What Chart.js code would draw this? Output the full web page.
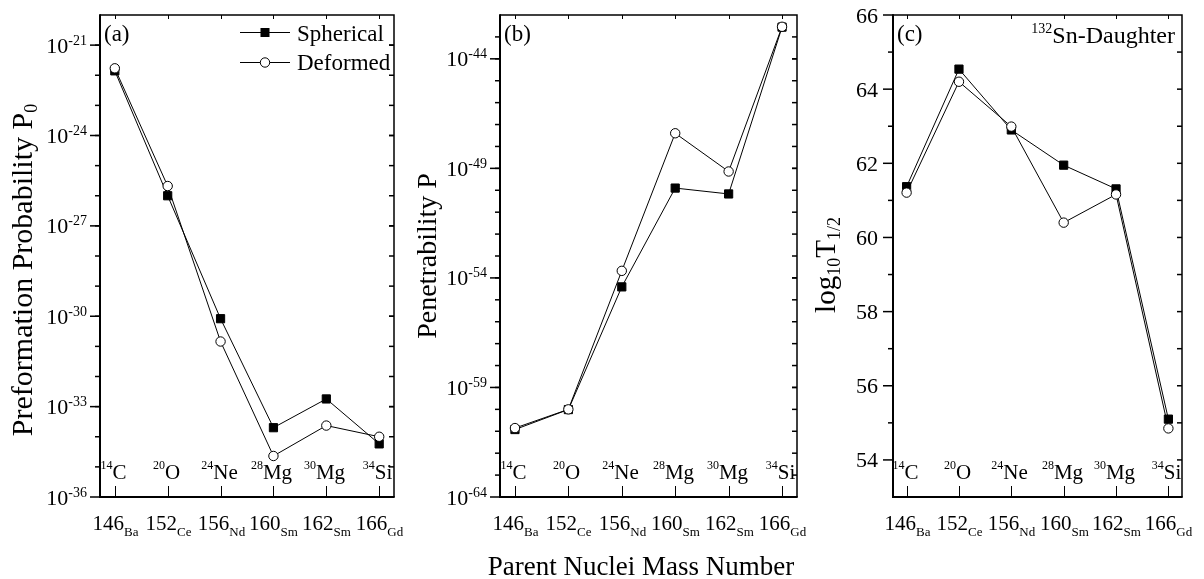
<!DOCTYPE html>
<html><head><meta charset="utf-8">
<script src="https://cdn.jsdelivr.net/npm/chart.js@4/dist/chart.umd.min.js"></script>
<style>
html,body{margin:0;padding:0;background:#fff;}
#wrap{position:relative;width:1204px;height:579px;background:#fff;}
canvas{position:absolute;left:0;top:0;}
</style></head><body>
<div id="wrap">
<canvas id="ca" width="1204" height="579"></canvas>
<canvas id="cb" width="1204" height="579"></canvas>
<canvas id="cc" width="1204" height="579"></canvas>
</div>
<script>
// ---- data ----
const parentMass = ['146','152','156','160','162','166'];
const parentSymbol = ['Ba','Ce','Nd','Sm','Sm','Gd'];
const clusterMass = ['14','20','24','28','30','34'];
const clusterSymbol = ['C','O','Ne','Mg','Mg','Si'];
const p0Spherical = [1.4e-22, 1.0e-26, 8.3e-31, 2.0e-34, 1.8e-33, 5.8e-35];
const p0Deformed  = [1.7e-22, 2.1e-26, 1.45e-31, 2.3e-35, 2.35e-34, 1.0e-34];
const penSpherical = [1.2e-61, 9.8e-61, 3.9e-55, 1.26e-50, 6.8e-51, 2.8e-43];
const penDeformed  = [1.4e-61, 1.0e-60, 2.1e-54, 4.0e-48, 7.2e-50, 2.9e-43];
const logTSpherical = [61.37, 64.54, 62.90, 61.95, 61.31, 55.10];
const logTDeformed  = [61.21, 64.20, 62.99, 60.40, 61.16, 54.85];
const p0MajorExp = [-36, -33, -30, -27, -24, -21];
const penMajorExp = [-64, -59, -54, -49, -44];
const logTMajor = [54, 56, 58, 60, 62, 64, 66];

const FONT = '"Liberation Serif","Times New Roman",serif';
const W = 1204, H = 579;

function font(sz){ return sz + 'px ' + FONT; }
// parts: [{t, size, dy}] ; align: 'left'|'right'|'center'
function rich(ctx, parts, x, y, align){
  let w = 0;
  parts.forEach(p => { ctx.font = font(p.size); p.w = ctx.measureText(p.t).width; w += p.w; });
  let cx = align === 'right' ? x - w : align === 'center' ? x - w/2 : x;
  ctx.textAlign = 'left'; ctx.textBaseline = 'alphabetic'; ctx.fillStyle = '#000';
  parts.forEach(p => { ctx.font = font(p.size); ctx.fillText(p.t, cx, y + (p.dy||0)); cx += p.w; });
  return w;
}

function makePanel(cfg){
  const a = cfg.area;
  const deco = {
    id: 'deco' + cfg.id,
    afterDraw(chart){
      const ctx = chart.ctx;
      const xs = chart.scales.x, ys = chart.scales.y;
      const ca = chart.chartArea;
      const l = ca.left, r = ca.right, t = ca.top, b = ca.bottom;
      ctx.save();
      ctx.strokeStyle = '#000';
      // frame
      ctx.lineWidth = 1.5;
      ctx.beginPath(); ctx.moveTo(l, t); ctx.lineTo(r, t); ctx.lineTo(r, b); ctx.stroke();
      ctx.lineWidth = 2;
      ctx.beginPath(); ctx.moveTo(l, t - 0.7); ctx.lineTo(l, b); ctx.lineTo(r + 0.7, b); ctx.stroke();
      // y ticks
      ctx.lineWidth = 1.5;
      cfg.minor.forEach(v => {
        const py = ys.getPixelForValue(v);
        if (py < t + 1 || py > b - 1) return;
        ctx.beginPath(); ctx.moveTo(l - 5, py); ctx.lineTo(l, py); ctx.stroke();
        ctx.beginPath(); ctx.moveTo(r - 5, py); ctx.lineTo(r, py); ctx.stroke();
      });
      cfg.major.forEach((v, i) => {
        const py = ys.getPixelForValue(v);
        ctx.beginPath(); ctx.moveTo(l - 10, py); ctx.lineTo(l, py); ctx.stroke();
        if (py > t + 1 && py < b - 1) { ctx.beginPath(); ctx.moveTo(r - 5, py); ctx.lineTo(r, py); ctx.stroke(); }
        if (cfg.log) {
          rich(ctx, [{t:'10', size:22, dy:0}, {t: String(cfg.majorExp[i]), size:14, dy:-8}], l - 13, py + 7.5, 'right');
        } else {
          rich(ctx, [{t:String(v), size:22}], l - 15, py + 7.5, 'right');
        }
      });
      // x ticks
      ctx.lineWidth = 1;
      parentMass.forEach((m, i) => {
        const px = Math.round(xs.getPixelForValue(i)) + 0.5;
        ctx.beginPath(); ctx.moveTo(px, b); ctx.lineTo(px, b - 11); ctx.stroke();
        ctx.beginPath(); ctx.moveTo(px, t); ctx.lineTo(px, t + 4); ctx.stroke();
        rich(ctx, [{t:m, size:21}, {t:parentSymbol[i], size:13, dy:6}], px, 530, 'center');
        rich(ctx, [{t:clusterMass[i], size:12, dy:-10}, {t:clusterSymbol[i], size:21}], px - 2, 479, 'center');
      });
      // panel letter
      ctx.font = font(23); ctx.fillStyle = '#000'; ctx.textAlign = 'left';
      ctx.fillText(cfg.letter, l + 4, 41);
      // y title (rotated)
      ctx.save();
      ctx.translate(cfg.titleX, cfg.titleY);
      ctx.rotate(-Math.PI/2);
      rich(ctx, cfg.titleParts, 0, 0, 'center');
      ctx.restore();
      if (cfg.extra) cfg.extra(ctx, chart);
      ctx.restore();
    }
  };
  const ds = (vals, label, sph) => ({
    label,
    data: vals.map((v, i) => ({x: i, y: v})),
    borderColor: '#000', borderWidth: 1,
    backgroundColor: sph ? '#000' : '#fff',
    pointStyle: sph ? 'rect' : 'circle',
    pointRadius: sph ? 5.8 : 4.7,
    pointBorderWidth: 1,
    pointBorderColor: '#000',
    pointBackgroundColor: sph ? '#000' : '#fff',
    tension: 0, fill: false, clip: false,
    order: sph ? 1 : 0
  });
  return new Chart(document.getElementById(cfg.id), {
    type: 'line',
    data: { datasets: [ds(cfg.sph, 'Spherical', true), ds(cfg.def, 'Deformed', false)] },
    options: {
      responsive: false, animation: false, devicePixelRatio: 1, events: [],
      layout: { padding: { left: a.l, top: a.t, right: W - a.r, bottom: H - a.b } },
      plugins: { legend: { display: false }, tooltip: { enabled: false } },
      scales: {
        x: { type: 'linear', display: false, min: -cfg.xPad, max: 5 + cfg.xPad },
        y: { type: cfg.log ? 'logarithmic' : 'linear', display: false, min: cfg.yMin, max: cfg.yMax }
      }
    },
    plugins: [deco]
  });
}

function range(a, b, s){ const o = []; for (let v = a; v <= b + 1e-9; v += s) o.push(v); return o; }

makePanel({
  id: 'ca', area: {l: 100, t: 15, r: 394, b: 497}, xPad: 0.28, log: true,
  yMin: 1e-36, yMax: 1e-20, sph: p0Spherical, def: p0Deformed,
  majorExp: p0MajorExp, major: p0MajorExp.map(e => Math.pow(10, e)),
  minor: range(-36, -20, 1).map(e => Math.pow(10, e)),
  letter: '(a)', titleX: 32, titleY: 270,
  titleParts: [{t:'Preformation Probability P', size:30}, {t:'0', size:18, dy:5}],
  extra(ctx){
    ctx.strokeStyle = '#000'; ctx.lineWidth = 1;
    // Spherical
    ctx.beginPath(); ctx.moveTo(240, 32.5); ctx.lineTo(290, 32.5); ctx.stroke();
    ctx.fillStyle = '#000'; ctx.fillRect(260.5, 28, 9, 9);
    // Deformed
    ctx.beginPath(); ctx.moveTo(240, 62.5); ctx.lineTo(290, 62.5); ctx.stroke();
    ctx.beginPath(); ctx.arc(265, 62.5, 4.7, 0, Math.PI*2); ctx.fillStyle = '#fff'; ctx.fill(); ctx.stroke();
    rich(ctx, [{t:'Spherical', size:23}], 297, 41, 'left');
    rich(ctx, [{t:'Deformed', size:23}], 297, 70, 'left');
  }
});
makePanel({
  id: 'cb', area: {l: 500, t: 15, r: 797, b: 497}, xPad: 0.28, log: true,
  yMin: 1e-64, yMax: 1e-42, sph: penSpherical, def: penDeformed,
  majorExp: penMajorExp, major: penMajorExp.map(e => Math.pow(10, e)),
  minor: range(-64, -42, 1).map(e => Math.pow(10, e)),
  letter: '(b)', titleX: 436, titleY: 256,
  titleParts: [{t:'Penetrability P', size:28}]
});
makePanel({
  id: 'cc', area: {l: 893, t: 15, r: 1182, b: 497}, xPad: 0.26, log: false,
  yMin: 53, yMax: 66, sph: logTSpherical, def: logTDeformed,
  major: logTMajor, minor: range(53, 65, 2),
  letter: '(c)', titleX: 835, titleY: 265,
  titleParts: [{t:'log', size:29}, {t:'10', size:18, dy:5}, {t:'T', size:29}, {t:'1/2', size:18, dy:5}],
  extra(ctx){
    rich(ctx, [{t:'132', size:14, dy:-10}, {t:'Sn-Daughter', size:24}], 1175, 43, 'right');
    rich(ctx, [{t:'Parent Nuclei Mass Number', size:27}], 641, 575, 'center');
  }
});
</script>
</body></html>
